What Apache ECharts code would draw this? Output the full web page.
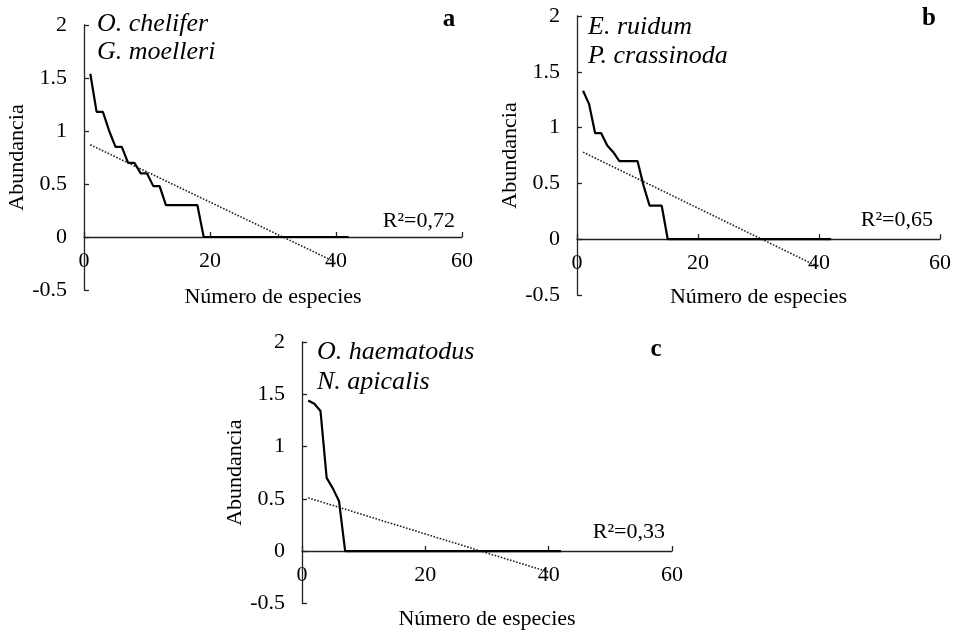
<!DOCTYPE html>
<html>
<head>
<meta charset="utf-8">
<script src="https://cdn.jsdelivr.net/npm/echarts@6/dist/echarts.min.js"></script>
<style>
  html, body { margin: 0; padding: 0; background: #fff; }
  #chart { width: 957px; height: 631px; }
</style>
</head>
<body>
<div id="chart"></div>
<script>
// rango de especies
var ranks = [1,2,3,4,5,6,7,8,9,10,11,12,13,14,15,16,17,18,19,20,21,22,23,24,25,26,27,28,29,30,31,32,33,34,35,36,37,38,39,40,41,42];
// abundancia (log) por panel
var abundA = [1.54,1.18,1.18,1.00,0.85,0.85,0.70,0.70,0.60,0.60,0.48,0.48,0.30,0.30,0.30,0.30,0.30,0.30,0,0,0,0,0,0,0,0,0,0,0,0,0,0,0,0,0,0,0,0,0,0,0,0];
var abundB = [1.33,1.21,0.95,0.95,0.84,0.78,0.70,0.70,0.70,0.70,0.48,0.30,0.30,0.30,0,0,0,0,0,0,0,0,0,0,0,0,0,0,0,0,0,0,0,0,0,0,0,0,0,0,0,0];
var abundC = [1.44,1.41,1.34,0.70,0.60,0.48,0,0,0,0,0,0,0,0,0,0,0,0,0,0,0,0,0,0,0,0,0,0,0,0,0,0,0,0,0,0,0,0,0,0,0,0];
// lineas de tendencia
var trendX = [1, 40];
var trendA = [0.87, -0.24];
var trendB = [0.78, -0.25];
var trendC = [0.51, -0.20];
var r2Labels = ['R²=0,72', 'R²=0,65', 'R²=0,33'];
var speciesA = ['O. chelifer', 'G. moelleri'];
var speciesB = ['E. ruidum', 'P. crassinoda'];
var speciesC = ['O. haematodus', 'N. apicalis'];

var FONT = '"Liberation Serif", "Times New Roman", serif';
var chart = echarts.init(document.getElementById('chart'));

// alto de cada grid (px), el eje x se sube hasta y = 0 (0.5 de 2.5 unidades)
var gridH = [265, 279, 262];

function pairs(xs, ys) {
    return xs.map(function (x, i) { return [x, ys[i]]; });
}
function xAx(idx, gap) {
    return {
        gridIndex: idx, type: 'value', min: 0, max: 60, interval: 20,
        offset: -gridH[idx] / 5,
        name: 'Número de especies', nameLocation: 'middle', nameGap: gap,
        nameTextStyle: { fontFamily: FONT, fontSize: 22, color: '#000' },
        axisLine: { onZero: false, lineStyle: { color: '#222', width: 1.3 } },
        axisTick: { show: true, inside: true, length: 5, lineStyle: { color: '#222', width: 1.3 } },
        axisLabel: { fontFamily: FONT, fontSize: 22, color: '#000', margin: 13 },
        splitLine: { show: false }
    };
}
function yAx(idx) {
    return {
        gridIndex: idx, type: 'value', min: -0.5, max: 2, interval: 0.5,
        name: 'Abundancia', nameLocation: 'middle', nameGap: 56,
        nameTextStyle: { fontFamily: FONT, fontSize: 22, color: '#000' },
        axisLine: { show: true, onZero: false, lineStyle: { color: '#222', width: 1.3 } },
        axisTick: { show: true, inside: true, length: 5, lineStyle: { color: '#222', width: 1.3 } },
        axisLabel: { fontFamily: FONT, fontSize: 22, color: '#000', margin: 17 },
        splitLine: { show: false }
    };
}
function dataSeries(idx, ys) {
    return {
        type: 'line', xAxisIndex: idx, yAxisIndex: idx, data: pairs(ranks, ys),
        showSymbol: false, symbol: 'none', z: 3,
        lineStyle: { color: '#000', width: 2.2 }
    };
}
function trendSeries(idx, ys) {
    return {
        type: 'line', xAxisIndex: idx, yAxisIndex: idx, data: pairs(trendX, ys),
        showSymbol: false, symbol: 'none', z: 2,
        lineStyle: { color: '#222', width: 1.6, type: 'dotted' }
    };
}
function txt(x, y, s, size, style, align) {
    return {
        type: 'text', x: x, y: y,
        style: {
            text: s, fill: '#000', align: align || 'left', verticalAlign: 'top',
            font: style + ' ' + size + 'px ' + FONT
        }
    };
}

var option = {
    animation: false,
    backgroundColor: '#fff',
    grid: [
        { left: 84, top: 25, width: 378, height: gridH[0] },
        { left: 577, top: 16, width: 363, height: gridH[1] },
        { left: 302, top: 342, width: 370, height: gridH[2] }
    ],
    xAxis: [xAx(0, 49), xAx(1, 47), xAx(2, 57)],
    yAxis: [yAx(0), yAx(1), yAx(2)],
    series: [
        trendSeries(0, trendA), dataSeries(0, abundA),
        trendSeries(1, trendB), dataSeries(1, abundB),
        trendSeries(2, trendC), dataSeries(2, abundC)
    ],
    graphic: [
        txt(97, 11, speciesA[0], 26, 'italic'),
        txt(97, 39, speciesA[1], 26, 'italic'),
        txt(588, 14, speciesB[0], 26, 'italic'),
        txt(588, 43, speciesB[1], 26, 'italic'),
        txt(317, 339, speciesC[0], 26, 'italic'),
        txt(317, 369, speciesC[1], 26, 'italic'),
        txt(449, 7, 'a', 25, 'bold', 'center'),
        txt(929, 6, 'b', 25, 'bold', 'center'),
        txt(656, 337, 'c', 25, 'bold', 'center'),
        txt(455, 210, r2Labels[0], 22, 'normal', 'right'),
        txt(933, 209, r2Labels[1], 22, 'normal', 'right'),
        txt(665, 521, r2Labels[2], 22, 'normal', 'right')
    ]
};
chart.setOption(option);
</script>
</body>
</html>
